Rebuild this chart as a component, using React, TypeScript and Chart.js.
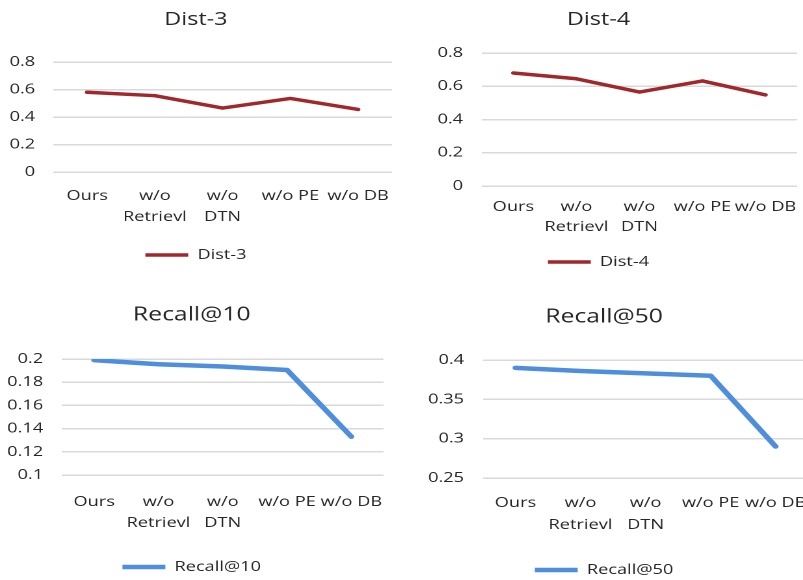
import React, { useEffect, useRef } from 'react';
import { Chart, registerables } from 'chart.js';

Chart.register(...registerables);

// ---------- data ----------
const categories: (string | string[])[] = ['Ours', ['w/o', 'Retrievl'], ['w/o', 'DTN'], 'w/o PE', 'w/o DB'];

const dist3Values = [0.58, 0.555, 0.465, 0.535, 0.455];
const dist4Values = [0.68, 0.645, 0.565, 0.632, 0.548];
const recall10Values = [0.199, 0.1955, 0.1935, 0.1905, 0.133];
const recall50Values = [0.39, 0.386, 0.383, 0.38, 0.29];

const dist3Ticks = [0, 0.2, 0.4, 0.6, 0.8];
const dist4Ticks = [0, 0.2, 0.4, 0.6, 0.8];
const recall10Ticks = [0.1, 0.12, 0.14, 0.16, 0.18, 0.2];
const recall50Ticks = [0.25, 0.3, 0.35, 0.4];

// ---------- styles ----------
const STRETCH = 1.3;
const RED = '#A0282C';
const BLUE = '#4F8EDC';
const TEXT = '#262626';
const GRID = '#d9d9d9';
const FONT = "'Open Sans', 'Noto Sans', sans-serif";
const TICK_WEIGHT = '500';

interface PanelSpec {
  name: string;
  values: number[];
  ticks: number[];
  color: string;
  lineWidth: number;
  left: number;
  top: number;
  w: number;
  h: number;
  padRight: number;
  padBottom: number;
  titleSize: number;
  titleTop: number;
  titleBottom: number;
  yAxisW: number;
  yPad: number;
  xAxisH: number;
  xPad: number;
  xLh: number;
  legendPad: number;
}

const panels: PanelSpec[] = [
  {
    name: 'Dist-3', values: dist3Values, ticks: dist3Ticks, color: RED, lineWidth: 3.5,
    left: 0, top: 0, w: 308, h: 285, padRight: 6.5, padBottom: 13,
    titleSize: 18, titleTop: 9.2, titleBottom: 31.2,
    yAxisW: 41, yPad: 14, xAxisH: 66, xPad: 13.5, xLh: 1.5, legendPad: 10,
  },
  {
    name: 'Dist-4', values: dist4Values, ticks: dist4Ticks, color: RED, lineWidth: 3.5,
    left: 400, top: 0, w: 310, h: 285, padRight: 4.6, padBottom: 6,
    titleSize: 18, titleTop: 9.2, titleBottom: 22.2,
    yAxisW: 63, yPad: 14.5, xAxisH: 59, xPad: 11, xLh: 1.43, legendPad: 10,
  },
  {
    name: 'Recall@10', values: recall10Values, ticks: recall10Ticks, color: BLUE, lineWidth: 4.5,
    left: 0, top: 290, w: 308, h: 300, padRight: 13, padBottom: 6,
    titleSize: 19, titleTop: 13.6, titleBottom: 32.6,
    yAxisW: 47.7, yPad: 14.5, xAxisH: 75, xPad: 16.5, xLh: 1.5, legendPad: 10,
  },
  {
    name: 'Recall@50', values: recall50Values, ticks: recall50Ticks, color: BLUE, lineWidth: 4.5,
    left: 400, top: 290, w: 314, h: 300, padRight: 0, padBottom: 3,
    titleSize: 19, titleTop: 15.6, titleBottom: 31.6,
    yAxisW: 63.8, yPad: 14.5, xAxisH: 75, xPad: 14, xLh: 1.57, legendPad: 10,
  },
];

function fmt(v: number): string {
  return String(Number(Number(v).toFixed(3)));
}

function buildConfig(p: PanelSpec): any {
  return {
    type: 'line',
    data: {
      labels: categories,
      datasets: [
        {
          label: p.name,
          data: p.values,
          borderColor: p.color,
          backgroundColor: p.color,
          borderWidth: p.lineWidth,
          borderCapStyle: 'round',
          borderJoinStyle: 'round',
          pointRadius: 0,
          pointHoverRadius: 0,
          tension: 0,
          fill: false,
        },
      ],
    },
    options: {
      responsive: false,
      animation: false,
      devicePixelRatio: 2,
      events: [],
      layout: { padding: { left: 0, right: p.padRight, top: 0, bottom: p.padBottom } },
      plugins: {
        title: {
          display: true,
          text: p.name,
          color: TEXT,
          font: { family: FONT, size: p.titleSize, weight: 'normal', lineHeight: 1.2 },
          padding: { top: p.titleTop, bottom: p.titleBottom },
        },
        legend: {
          position: 'bottom',
          labels: {
            usePointStyle: true,
            pointStyle: 'line',
            pointStyleWidth: 33,
            padding: p.legendPad,
            color: TEXT,
            font: { family: FONT, size: 14, weight: TICK_WEIGHT },
          },
        },
        tooltip: { enabled: false },
      },
      scales: {
        x: {
          offset: true,
          grid: { display: false, drawTicks: false, offset: true },
          border: { display: false },
          ticks: {
            autoSkip: false,
            maxRotation: 0,
            minRotation: 0,
            padding: p.xPad,
            color: TEXT,
            font: { family: FONT, size: 14, weight: TICK_WEIGHT, lineHeight: p.xLh },
          },
          afterFit: (s: any) => {
            s.height = p.xAxisH;
            s.paddingLeft = 0;
            s.paddingRight = 0;
          },
        },
        y: {
          min: p.ticks[0],
          max: p.ticks[p.ticks.length - 1],
          grid: { color: GRID, lineWidth: 1.5, drawTicks: false },
          border: { display: false },
          ticks: {
            padding: p.yPad,
            color: TEXT,
            font: { family: FONT, size: 14, weight: TICK_WEIGHT },
            callback: (v: any) => fmt(v),
          },
          afterBuildTicks: (s: any) => {
            s.ticks = p.ticks.map((v) => ({ value: v }));
          },
          afterFit: (s: any) => {
            s.width = p.yAxisW;
            s.paddingTop = 0;
            s.paddingBottom = 0;
          },
        },
      },
    },
  };
}

function Panel({ spec }: { spec: PanelSpec }) {
  const ref = useRef<HTMLCanvasElement>(null);
  useEffect(() => {
    if (!ref.current) return;
    const chart = new Chart(ref.current, buildConfig(spec));
    return () => chart.destroy();
  }, [spec]);
  return (
    <div
      style={{
        position: 'absolute',
        left: spec.left,
        top: spec.top,
        width: spec.w,
        height: spec.h,
        transform: `scaleX(${STRETCH})`,
        transformOrigin: '0 0',
      }}
    >
      <canvas ref={ref} width={spec.w} height={spec.h} style={{ display: 'block' }} />
    </div>
  );
}

export default function App() {
  return (
    <div
      style={{
        position: 'fixed',
        left: 0,
        top: 0,
        width: 803,
        height: 580,
        overflow: 'hidden',
        background: '#ffffff',
      }}
    >
      {panels.map((p) => (
        <Panel key={p.name} spec={p} />
      ))}
    </div>
  );
}
